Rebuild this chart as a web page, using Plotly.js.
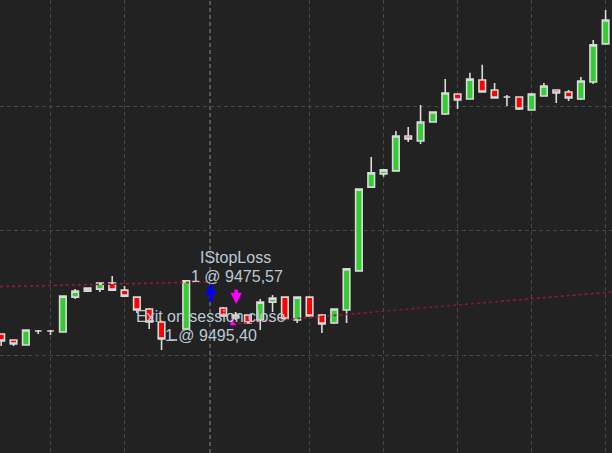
<!DOCTYPE html>
<html>
<head>
<meta charset="utf-8">
<script src="https://cdn.plot.ly/plotly-3.0.1.min.js"></script>
<style>
  html, body { margin: 0; padding: 0; background: #222222; }
  #chart { width: 612px; height: 453px; }
</style>
</head>
<body>
<div id="chart"></div>
<script>
// Bar index (equidistant bars); slots 16 and 17 have no bars
const barIndex = [0,1,2,3,4,5,6,7,8,9,10,11,12,13,14,15,16,17,18,19,20,21,22,23,24,25,26,27,28,29,30,31,32,33,34,35,36,37,38,39,40,41,42,43,44,45,46,47,48,49];
const openPx  = [9408.7,9406.3,9404.3,9409.9,9409.9,9409.5,9423.5,9425.9,9426.7,9429.1,9426.3,9423.5,9418.7,9413.5,9406.3,9410.7,null,null,9419.1,9415.1,9416.3,9414.3,9421.5,9423.5,9414.3,9423.5,9416.3,9413.1,9418.3,9434.0,9467.6,9472.9,9474.1,9488.1,9486.1,9493.7,9496.9,9504.9,9502.9,9510.5,9506.5,9503.7,9503.7,9498.5,9504.1,9506.5,9505.7,9502.9,9509.7,9525.0];
const highPx  = [9408.7,9406.3,9410.3,9410.3,9410.3,9423.9,9426.7,9427.1,9429.1,9432.0,9427.9,9423.5,9419.1,9413.5,9406.3,9430.0,null,null,9419.5,9417.5,9416.3,9422.7,9424.3,9423.5,9423.5,9423.5,9416.7,9418.7,9434.8,9466.8,9479.7,9474.5,9490.1,9491.7,9500.5,9497.7,9510.9,9504.9,9513.4,9516.6,9509.3,9504.5,9503.7,9505.3,9509.3,9506.5,9506.5,9511.7,9526.6,9538.6];
const lowPx   = [9403.9,9403.9,9404.3,9408.7,9408.3,9409.5,9422.7,9425.5,9425.5,9426.3,9423.9,9417.1,9410.7,9402.3,9406.3,9410.7,null,null,9415.5,9414.3,9413.1,9410.3,9417.5,9414.7,9413.1,9415.9,9409.1,9412.7,9413.1,9434.0,9467.6,9471.7,9474.1,9485.7,9484.9,9493.7,9496.5,9498.9,9502.9,9505.7,9503.3,9500.1,9498.5,9498.5,9504.1,9501.3,9502.1,9502.5,9508.9,9525.0];
const closePx = [9405.9,9404.7,9410.3,9409.9,9409.9,9423.9,9425.9,9427.1,9429.1,9426.3,9423.9,9418.3,9413.5,9406.7,9406.3,9430.0,null,null,9415.9,9416.3,9413.1,9421.5,9423.1,9414.7,9423.5,9415.9,9412.7,9418.7,9434.8,9466.8,9473.3,9474.5,9488.1,9486.9,9493.7,9497.7,9505.3,9502.5,9510.9,9505.7,9503.3,9503.7,9498.9,9504.9,9508.1,9505.3,9503.3,9510.1,9524.6,9534.6];

// Trade lines (bar index, price)
const stopLineX = [-0.1, 17.0];
const stopLineY = [9427.7, 9429.6];
const exitLineX = [18.7, 49.6];
const exitLineY = [9412.7, 9425.6];

// Signal labels
const labelTexts = ["IStopLoss", "1 @ 9475,57", "Exit on session close", "1 @ 9495,40"];

// hourly grid bars and session break bar
const gridBars = [4, 10, 25, 31, 37, 43, 49];
const sessionBreakBar = 17;
const priceGrid = [9400, 9450, 9500, 9550];

const keep = barIndex.filter((_, i) => openPx[i] !== null);
const pick = arr => barIndex.map((_, i) => arr[i]).filter((_, i) => openPx[i] !== null);

const candles = {
  type: 'candlestick',
  x: keep,
  open: pick(openPx), high: pick(highPx), low: pick(lowPx), close: pick(closePx),
  increasing: { fillcolor: '#33cc33', line: { color: '#dadada', width: 1.6 } },
  decreasing: { fillcolor: '#ff0000', line: { color: '#dadada', width: 1.6 } },
  whiskerwidth: 0,
  hoverinfo: 'skip',
  showlegend: false
};

const stopLine = {
  type: 'scatter', mode: 'lines', x: stopLineX, y: stopLineY,
  line: { color: '#9a1a32', width: 1.6, dash: 'dot' }, hoverinfo: 'skip', showlegend: false
};
const exitLine = {
  type: 'scatter', mode: 'lines', x: exitLineX, y: exitLineY,
  line: { color: '#9a1a32', width: 1.4, dash: 'dot' }, hoverinfo: 'skip', showlegend: false
};
const exitMarker = {
  type: 'scatter', mode: 'markers', x: [exitLineX[0] + 0.05], y: [exitLineY[0] + 0.4],
  marker: { symbol: 'triangle-sw', size: 7, color: '#ff00ff' }, hoverinfo: 'skip', showlegend: false
};

const textFont = { family: 'Arial, "Liberation Sans", sans-serif', size: 16, color: '#bccad8' };

const layout = {
  width: 612, height: 453,
  margin: { l: 0, r: 0, t: 0, b: 0 },
  paper_bgcolor: '#222222', plot_bgcolor: '#222222',
  showlegend: false,
  boxgap: 0.24,
  xaxis: {
    type: 'linear', range: [-0.097, 49.52],
    tickvals: gridBars, showticklabels: false, ticks: '',
    showgrid: true, gridcolor: '#484848', griddash: '4px,3px', gridwidth: 1,
    zeroline: false, showline: false, rangeslider: { visible: false }, fixedrange: true
  },
  yaxis: {
    range: [9361.0, 9542.6],
    tickvals: priceGrid, showticklabels: false, ticks: '',
    showgrid: true, gridcolor: '#484848', griddash: '4px,3px', gridwidth: 1,
    zeroline: false, showline: false, fixedrange: true
  },
  shapes: [
    { type: 'line', xref: 'x', yref: 'paper', x0: sessionBreakBar - 0.07, x1: sessionBreakBar - 0.07, y0: 0, y1: 1,
      line: { color: '#8a8a8a', width: 1, dash: '4px,3px' }, layer: 'below' }
  ],
  annotations: [
    { x: 19.0, y: 9439.4, xref: 'x', yref: 'y', text: labelTexts[0], showarrow: false, font: textFont },
    { x: 19.1, y: 9431.8, xref: 'x', yref: 'y', text: labelTexts[1], showarrow: false, font: textFont },
    { x: 17.0, y: 9415.7, xref: 'x', yref: 'y', text: labelTexts[2], showarrow: false, font: textFont },
    { x: 17.0, y: 9408.1, xref: 'x', yref: 'y', text: labelTexts[3], showarrow: false, font: textFont },
    { x: 17.0, y: 9429.1, xref: 'x', yref: 'y', text: '', showarrow: true, ax: 0, ay: 20,
      arrowcolor: '#0000ff', arrowwidth: 3.5, arrowhead: 2, arrowsize: 0.65, standoff: 0, startstandoff: 0 },
    { x: 19.05, y: 9420.7, xref: 'x', yref: 'y', text: '', showarrow: true, ax: 0, ay: -16,
      arrowcolor: '#ff00ff', arrowwidth: 3.5, arrowhead: 2, arrowsize: 0.65, standoff: 0, startstandoff: 0 }
  ]
};

Plotly.newPlot('chart', [stopLine, exitLine, candles, exitMarker], layout, { staticPlot: true, displayModeBar: false });
</script>
</body>
</html>
